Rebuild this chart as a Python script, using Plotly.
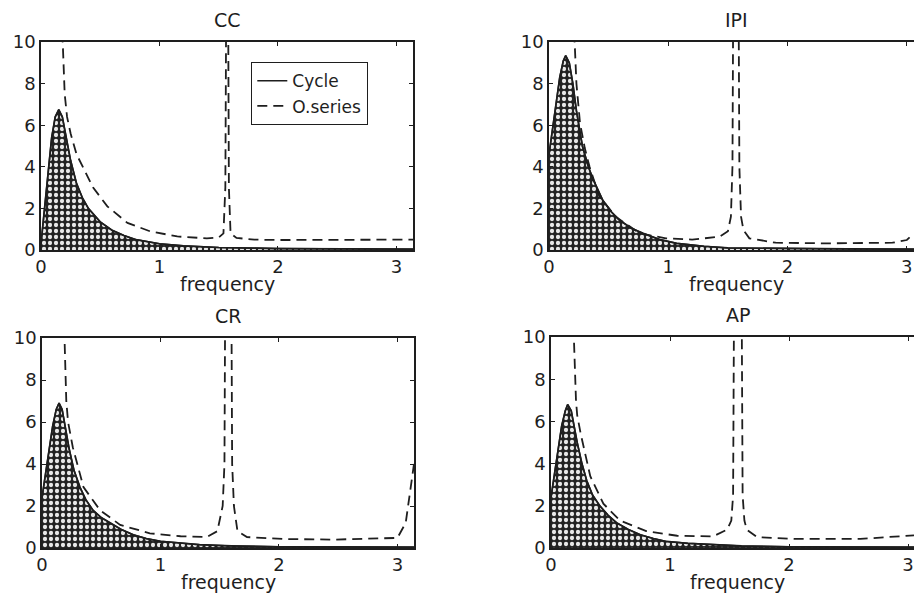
import plotly.graph_objects as go

# ---------------- data ----------------
titles = ["CC", "IPI", "CR", "AP"]
x_label = "frequency"
x_ticks = [0, 1, 2, 3]
y_ticks = [0, 2, 4, 6, 8, 10]

# CC
cc_cycle_f = [0, 0.03, 0.06, 0.09, 0.12, 0.15, 0.18, 0.21, 0.25, 0.3, 0.35, 0.4, 0.5, 0.6, 0.7, 0.8, 1.0, 1.2, 1.5, 2.0, 2.5, 3.14]
cc_cycle_v = [0.3, 2.0, 3.9, 5.4, 6.4, 6.75, 6.4, 5.5, 4.3, 3.2, 2.5, 2.0, 1.35, 0.95, 0.7, 0.5, 0.3, 0.2, 0.12, 0.07, 0.05, 0.04]
cc_series_f = [0.17, 0.185, 0.2, 0.22, 0.25, 0.3, 0.36, 0.44, 0.56, 0.73, 0.92, 1.15, 1.4, 1.5, 1.54, 1.556, 1.565, 1.578, 1.586, 1.6, 1.65, 1.8, 2.0, 2.5, 3.0, 3.14]
cc_series_v = [12, 9.5, 7.5, 6.4, 5.6, 4.6, 3.9, 3.0, 2.1, 1.3, 0.9, 0.65, 0.56, 0.6, 0.8, 3.0, 14, 14, 3.0, 0.8, 0.58, 0.5, 0.48, 0.48, 0.48, 0.5]

# IPI
ipi_cycle_f = [0, 0.03, 0.06, 0.09, 0.12, 0.14, 0.17, 0.2, 0.23, 0.28, 0.33, 0.37, 0.45, 0.52, 0.59, 0.69, 0.79, 0.93, 1.07, 1.3, 1.5, 2.0, 2.5, 3.06]
ipi_cycle_v = [4.6, 5.9, 7.2, 8.3, 9.1, 9.35, 9.0, 8.0, 6.7, 5.0, 4.0, 3.4, 2.4, 1.85, 1.44, 1.05, 0.8, 0.5, 0.32, 0.18, 0.1, 0.06, 0.05, 0.04]
ipi_series_f = [0.2, 0.215, 0.23, 0.26, 0.3, 0.34, 0.42, 0.56, 0.76, 0.98, 1.2, 1.43, 1.5, 1.525, 1.538, 1.546, 1.588, 1.596, 1.61, 1.63, 1.68, 1.9, 2.32, 2.88, 3.0, 3.06]
ipi_series_v = [12, 9.6, 8.0, 6.1, 4.9, 4.0, 2.6, 1.6, 0.8, 0.56, 0.5, 0.64, 0.9, 1.6, 4.0, 14, 14, 4.0, 1.6, 0.96, 0.56, 0.35, 0.32, 0.35, 0.48, 0.8]

# CR
cr_cycle_f = [0, 0.03, 0.06, 0.09, 0.12, 0.144, 0.17, 0.2, 0.23, 0.27, 0.32, 0.37, 0.43, 0.5, 0.57, 0.67, 0.77, 0.88, 1.0, 1.33, 1.6, 2.0, 2.5, 3.14]
cr_cycle_v = [2.4, 3.6, 4.8, 5.8, 6.6, 6.9, 6.6, 5.7, 4.7, 3.7, 2.9, 2.3, 1.8, 1.45, 1.2, 0.88, 0.63, 0.45, 0.32, 0.16, 0.1, 0.06, 0.05, 0.04]
cr_series_f = [0.18, 0.19, 0.205, 0.22, 0.26, 0.35, 0.49, 0.66, 0.91, 1.17, 1.39, 1.48, 1.525, 1.54, 1.548, 1.597, 1.605, 1.62, 1.65, 1.73, 2.04, 2.46, 3.0, 3.07, 3.11, 3.14]
cr_series_v = [12, 9.5, 7.0, 6.0, 4.8, 2.9, 1.8, 1.1, 0.7, 0.56, 0.52, 0.8, 2.0, 4.0, 14, 14, 4.0, 2.0, 0.8, 0.52, 0.43, 0.4, 0.48, 1.2, 2.8, 4.0]

# AP
ap_cycle_f = [0, 0.03, 0.06, 0.09, 0.12, 0.14, 0.17, 0.22, 0.26, 0.3, 0.35, 0.41, 0.48, 0.55, 0.65, 0.75, 0.86, 0.97, 1.15, 1.34, 1.6, 2.0, 2.5, 3.05]
ap_cycle_v = [2.4, 3.6, 4.8, 5.8, 6.5, 6.8, 6.5, 5.0, 4.0, 3.2, 2.5, 2.0, 1.55, 1.2, 0.88, 0.63, 0.45, 0.31, 0.22, 0.16, 0.1, 0.06, 0.05, 0.04]
ap_series_f = [0.18, 0.195, 0.21, 0.22, 0.25, 0.33, 0.44, 0.58, 0.8, 1.06, 1.36, 1.48, 1.515, 1.53, 1.54, 1.6, 1.61, 1.625, 1.645, 1.73, 2.04, 2.6, 3.0, 3.05]
ap_series_v = [12, 9.0, 7.0, 6.3, 5.4, 3.4, 2.1, 1.3, 0.8, 0.58, 0.55, 0.87, 1.3, 2.5, 14, 14, 2.5, 1.3, 0.87, 0.52, 0.43, 0.43, 0.55, 0.6]

panels = [
    (cc_cycle_f, cc_cycle_v, cc_series_f, cc_series_v),
    (ipi_cycle_f, ipi_cycle_v, ipi_series_f, ipi_series_v),
    (cr_cycle_f, cr_cycle_v, cr_series_f, cr_series_v),
    (ap_cycle_f, ap_cycle_v, ap_series_f, ap_series_v),
]

# ---------------- layout geometry (pixels of the 914x595 page) ----------------
W, H = 914, 595
FONT = "DejaVu Sans"
INK = "#1e1e1e"
# (left, right, top, bottom) of each plot area, and x range end
boxes = [
    (41, 413, 42, 250, 3.14),
    (549, 914, 42, 250, 3.06),
    (42, 414, 338, 548, 3.14),
    (551, 914, 337, 548, 3.05),
]

fig = go.Figure()
layout = dict(
    template="none",
    width=W, height=H,
    margin=dict(l=0, r=0, t=0, b=0, pad=0, autoexpand=False),
    paper_bgcolor="white", plot_bgcolor="white",
    font=dict(family=FONT, size=18, color=INK),
    showlegend=True,
    legend=dict(
        x=251 / W, y=1 - 62 / H, xanchor="left", yanchor="top",
        bordercolor=INK, borderwidth=1.3, bgcolor="white",
        font=dict(family=FONT, size=17, color=INK),
        tracegroupgap=0, itemwidth=30,
    ),
    annotations=[],
)

for i, ((cf, cv, sf, sv), (l, r, t, b, xmax)) in enumerate(zip(panels, boxes)):
    ax = "" if i == 0 else str(i + 1)
    xa, ya = "x" + ax, "y" + ax
    right_cut = r >= W
    fig.add_trace(go.Scatter(
        x=cf, y=cv, xaxis=xa, yaxis=ya, mode="lines",
        fill="tozeroy",
        fillpattern=dict(shape=".", bgcolor="#222222", fgcolor="#e8e8e8",
                         size=6, solidity=0.4),
        line=dict(color=INK, width=1.7),
        showlegend=False, hoverinfo="skip",
    ))
    fig.add_trace(go.Scatter(
        x=cf, y=cv, xaxis=xa, yaxis=ya, mode="lines",
        line=dict(color=INK, width=1.5),
        name="Cycle", showlegend=(i == 0),
    ))
    fig.add_trace(go.Scatter(
        x=sf, y=sv, xaxis=xa, yaxis=ya, mode="lines",
        line=dict(color=INK, width=1.8, dash="10px,6px"),
        name="O.series", showlegend=(i == 0),
    ))
    layout["xaxis" + ax] = dict(
        domain=[l / W, r / W], anchor=ya, range=[0, xmax], automargin=False,
        tickvals=x_ticks, ticks="inside", ticklen=4, tickwidth=1.3,
        tickcolor=INK, showline=True, linecolor=INK, linewidth=1.6,
        mirror="ticks", showgrid=False, zeroline=False,
        tickfont=dict(family=FONT, size=18, color=INK),
    )
    layout["yaxis" + ax] = dict(
        domain=[1 - b / H, 1 - t / H], anchor=xa, range=[0, 10], automargin=False,
        tickvals=y_ticks, ticks="inside", ticklen=4, tickwidth=1.3,
        tickcolor=INK, showline=True, linecolor=INK, linewidth=1.6,
        mirror=(False if right_cut else "ticks"), showgrid=False, zeroline=False,
        tickfont=dict(family=FONT, size=18, color=INK),
    )
    cx = (l + (l + 3.14 * (r - l) / xmax)) / 2
    layout["annotations"].append(dict(
        text=titles[i], x=cx / W, y=1 - (t - 22) / H, xref="paper", yref="paper",
        showarrow=False, font=dict(family=FONT, size=19, color=INK),
        xanchor="center", yanchor="middle"))
    layout["annotations"].append(dict(
        text=x_label, x=cx / W, y=1 - (b + 34) / H, xref="paper", yref="paper",
        showarrow=False, font=dict(family=FONT, size=19, color=INK),
        xanchor="center", yanchor="middle"))

fig.update_layout(**layout)
fig.write_html("out.html")
